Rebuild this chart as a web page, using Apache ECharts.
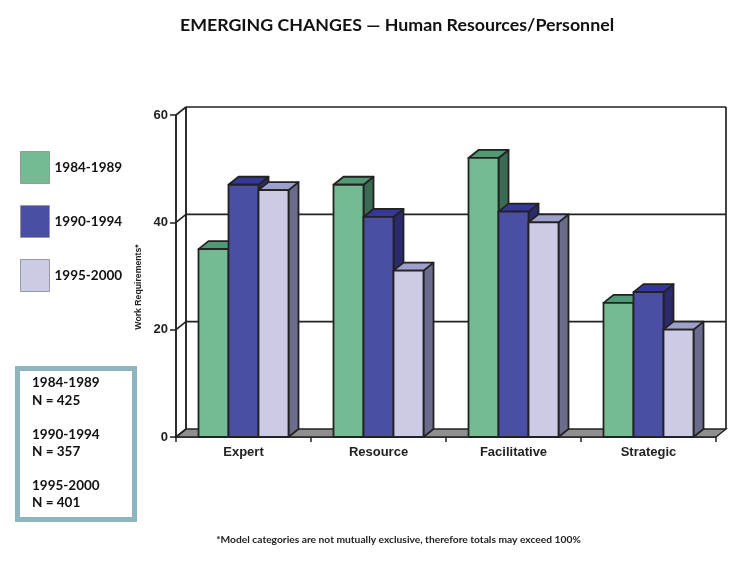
<!DOCTYPE html>
<html><head><meta charset="utf-8">
<style>html,body{margin:0;padding:0;background:#fff}#c{width:740px;height:561px}</style>
<script src="https://cdn.jsdelivr.net/npm/echarts@6/dist/echarts.min.js"></script>
</head><body><div id="c"></div>
<script>
const categories = ["Expert", "Resource", "Facilitative", "Strategic"];
const periods = ["1984-1989", "1990-1994", "1995-2000"];
const values1984 = [35, 47, 52, 25];
const values1990 = [47, 41, 42, 27];
const values1995 = [46, 31, 40, 20];
const yTicks = [0, 20, 40, 60];
const sampleSizes = [425, 357, 401];
const title = "EMERGING CHANGES — Human Resources/Personnel";
const yName = "Work Requirements*";
const footnote = "*Model categories are not mutually exclusive, therefore totals may exceed 100%";

const DX = 10, DY = 8, BAR_FRAC = 30 / 135, INK = "#222";
const palettes = [
  { front: "#74bb94", top: "#4f9a75", side: "#3b6b52" },
  { front: "#4a4fa3", top: "#35379a", side: "#2b2b6b" },
  { front: "#cccbe6", top: "#9f9fcc", side: "#6b6b8c" }
];
const serif = "Lato, 'Open Sans', sans-serif";
const helv = "'Liberation Sans', sans-serif";

function barSeries(name, values, idx) {
  const pal = palettes[idx];
  return {
    name, type: "custom", z: 5 + idx, clip: false,
    itemStyle: { color: pal.front, borderColor: "#999", borderWidth: 1 },
    data: values.map((v, i) => [i, v]),
    encode: { x: 0, y: 1 },
    renderItem(params, api) {
      const topPt = api.coord([api.value(0), api.value(1)]);
      const basePt = api.coord([api.value(0), 0]);
      const w = api.size([1, 0])[0] * BAR_FRAC;
      const x0 = topPt[0] + (idx - 1.5) * w, x1 = x0 + w, y0 = topPt[1], y1 = basePt[1];
      const st = f => ({ fill: f, stroke: INK, lineWidth: 1.8, lineJoin: "round" });
      return { type: "group", children: [
        { type: "polygon", shape: { points: [[x1, y0], [x1 + DX, y0 - DY], [x1 + DX, y1 - DY], [x1, y1]] }, style: st(pal.side) },
        { type: "polygon", shape: { points: [[x0, y0], [x0 + DX, y0 - DY], [x1 + DX, y0 - DY], [x1, y0]] }, style: st(pal.top) },
        { type: "rect", shape: { x: x0, y: y0, width: w, height: y1 - y0 }, style: st(pal.front) }
      ]};
    }
  };
}

const wallSeries = {
  type: "custom", z: 1, silent: true, clip: false, legendHoverLink: false,
  data: yTicks.map(v => [0, v]),
  encode: { y: 1 },
  renderItem(params, api) {
    const cs = params.coordSys, v = api.value(1), y = api.coord([0, v])[1];
    const l = cs.x, r = cs.x + cs.width;
    const line = { stroke: INK, lineWidth: 1.7 };
    const kids = [
      { type: "line", shape: { x1: l, y1: y, x2: l + DX, y2: y - DY }, style: line }
    ];
    if (v === 0) {
      kids.unshift({ type: "polygon", shape: { points: [[l, y], [l + DX, y - DY], [r + DX, y - DY], [r, y]] },
        style: { fill: "#8f8f8f", stroke: INK, lineWidth: 1.4 } });
      kids.push({ type: "line", shape: { x1: l + DX, y1: y - DY, x2: l + DX, y2: cs.y - DY }, style: { stroke: INK, lineWidth: 1.9 } });
      kids.push({ type: "line", shape: { x1: r + DX, y1: y - DY, x2: r + DX, y2: cs.y - DY }, style: { stroke: INK, lineWidth: 1.7 } });
    } else {
      kids.push({ type: "line", shape: { x1: l + DX, y1: y - DY, x2: r + DX, y2: y - DY }, style: line });
    }
    return { type: "group", children: kids };
  }
};

const boxLines = [];
periods.forEach((p, i) => {
  boxLines.push({ text: p, y: 383 + i * 51.5 });
  boxLines.push({ text: "N = " + sampleSizes[i], y: 401 + i * 51 });
});

const chart = echarts.init(document.getElementById("c"), null, { renderer: "canvas" });
chart.setOption({
  animation: false,
  backgroundColor: "#fff",
  title: {
    text: title, left: 392, top: 11, textAlign: "center",
    textStyle: { fontFamily: serif, fontWeight: "bold", fontSize: 17.8, color: "#111" }
  },
  legend: {
    orient: "vertical", left: 15, top: 146, itemWidth: 29, itemHeight: 32, itemGap: 21,
    data: periods, selectedMode: false, icon: "rect", itemStyle: { borderColor: "#999", borderWidth: 1 },
    textStyle: { fontFamily: serif, fontWeight: "bold", fontSize: 13.5, color: "#111" }
  },
  grid: { left: 176, right: 24, top: 115, height: 322, containLabel: false },
  xAxis: {
    type: "category", data: categories,
    axisLine: { lineStyle: { color: INK, width: 1.7 } },
    axisTick: { show: true, length: 5, lineStyle: { color: INK, width: 1.5 } },
    axisLabel: { fontFamily: helv, fontWeight: "bold", fontSize: 13, color: "#222", margin: 9 }
  },
  yAxis: {
    type: "value", min: 0, max: 60, interval: 20,
    splitLine: { show: false },
    axisLine: { show: true, lineStyle: { color: INK, width: 1.9 } },
    axisTick: { show: true, length: 6, lineStyle: { color: INK, width: 1.5 } },
    axisLabel: { fontFamily: helv, fontWeight: "bold", fontSize: 13, color: "#222", margin: 8 },
    name: yName, nameLocation: "middle", nameGap: 32, nameRotate: 90,
    nameTextStyle: { fontFamily: helv, fontWeight: "bold", fontSize: 8.7, color: "#222", padding: [0, 22, 0, 0] }
  },
  series: [wallSeries,
    barSeries(periods[0], values1984, 0),
    barSeries(periods[1], values1990, 1),
    barSeries(periods[2], values1995, 2)],
  graphic: [
    { type: "rect", shape: { x: 17.5, y: 368.5, width: 117, height: 151 }, style: { fill: "#fff", stroke: "#8fb5c0", lineWidth: 5 } },
    ...boxLines.map(b => ({ type: "text", x: 32, y: b.y, style: { text: b.text, fontFamily: serif, fontWeight: "bold", fontSize: 13.5, fill: "#111", verticalAlign: "middle" } })),
    { type: "text", x: 398.5, y: 540, style: { text: footnote, fontFamily: serif, fontWeight: "bold", fontSize: 10.25, fill: "#222", align: "center", verticalAlign: "middle" } }
  ]
});
</script></body></html>
